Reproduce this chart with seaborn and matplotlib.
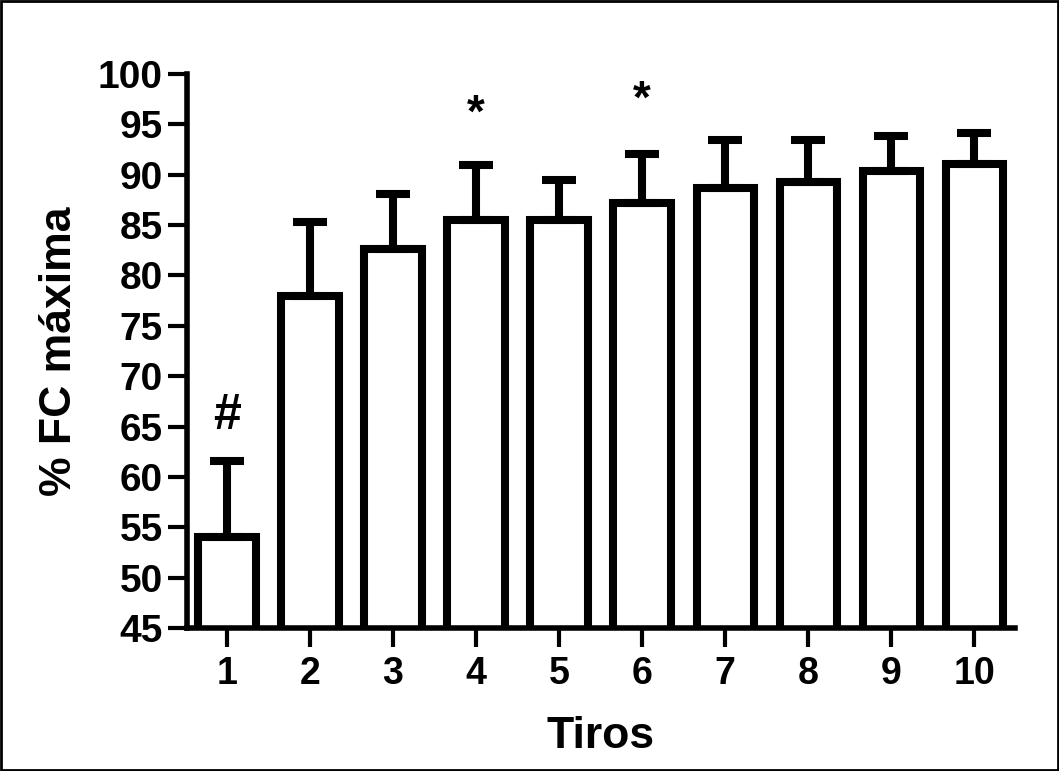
import numpy as np
import pandas as pd
import matplotlib
matplotlib.use("Agg")
import matplotlib.pyplot as plt
import seaborn as sns
from matplotlib.patches import Rectangle

tiros = ["1", "2", "3", "4", "5", "6", "7", "8", "9", "10"]
fc_mean = [54.0, 78.0, 82.6, 85.5, 85.5, 87.2, 88.7, 89.3, 90.4, 91.1]
fc_err = [7.6, 7.3, 5.5, 5.5, 4.0, 4.9, 4.7, 4.1, 3.4, 3.0]
marks = ["#", "", "", "*", "", "*", "", "", "", ""]
mark_y = [64.8, 0, 0, 94.8, 0, 96.2, 0, 0, 0, 0]

sns.set_theme(style="ticks")
plt.rcParams["font.family"] = ["Liberation Sans", "DejaVu Sans"]
plt.rcParams["font.weight"] = "bold"
for k in ["text.color", "axes.labelcolor", "xtick.color", "ytick.color", "axes.edgecolor"]:
    plt.rcParams[k] = "black"

df = pd.DataFrame({"Tiros": tiros, "FC": fc_mean})

fig = plt.figure(figsize=(10.59, 7.71), dpi=100)
ax = fig.add_axes([187 / 1059, 1 - 628 / 771, (1015 - 187) / 1059, (628 - 74) / 771])

sns.barplot(data=df, x="Tiros", y="FC", ax=ax, color="white", edgecolor="black",
            linewidth=5.8, width=0.69, errorbar=None, saturation=1)

xs = np.arange(len(tiros))
ax.errorbar(xs, fc_mean, yerr=[np.zeros(len(fc_err)), fc_err], fmt="none",
            ecolor="black", elinewidth=5.8, capsize=12.5, capthick=5.8, zorder=1)

for x, m, y in zip(xs, marks, mark_y):
    if m:
        ax.text(x, y, m, ha="center", va="baseline", fontsize=36 if m == "#" else 33,
                fontweight="bold", color="black")

ax.set_ylim(45, 100)
ax.set_xlim(-0.48, 9.49)
ax.set_yticks(np.arange(45, 101, 5))
ax.tick_params(axis="y", which="major", direction="out", length=14, width=3,
               labelsize=28, pad=3.5, left=True)
ax.tick_params(axis="x", which="major", direction="out", length=13.5, width=3,
               labelsize=27, pad=7, bottom=True)
for lab in ax.get_xticklabels() + ax.get_yticklabels():
    lab.set_fontweight("bold")

ax.spines["top"].set_visible(False)
ax.spines["right"].set_visible(False)
for s in ["left", "bottom"]:
    ax.spines[s].set_linewidth(4)
    ax.spines[s].set_color("black")

ax.set_xlabel("Tiros", fontsize=32, fontweight="bold", labelpad=17)
ax.set_ylabel("% FC máxima", fontsize=32, fontweight="bold", labelpad=13)

fig.patches.append(Rectangle((0.001, 0.001), 0.998, 0.998, transform=fig.transFigure,
                             fill=False, edgecolor="black", linewidth=2))

fig.savefig("out.png", dpi=100)
